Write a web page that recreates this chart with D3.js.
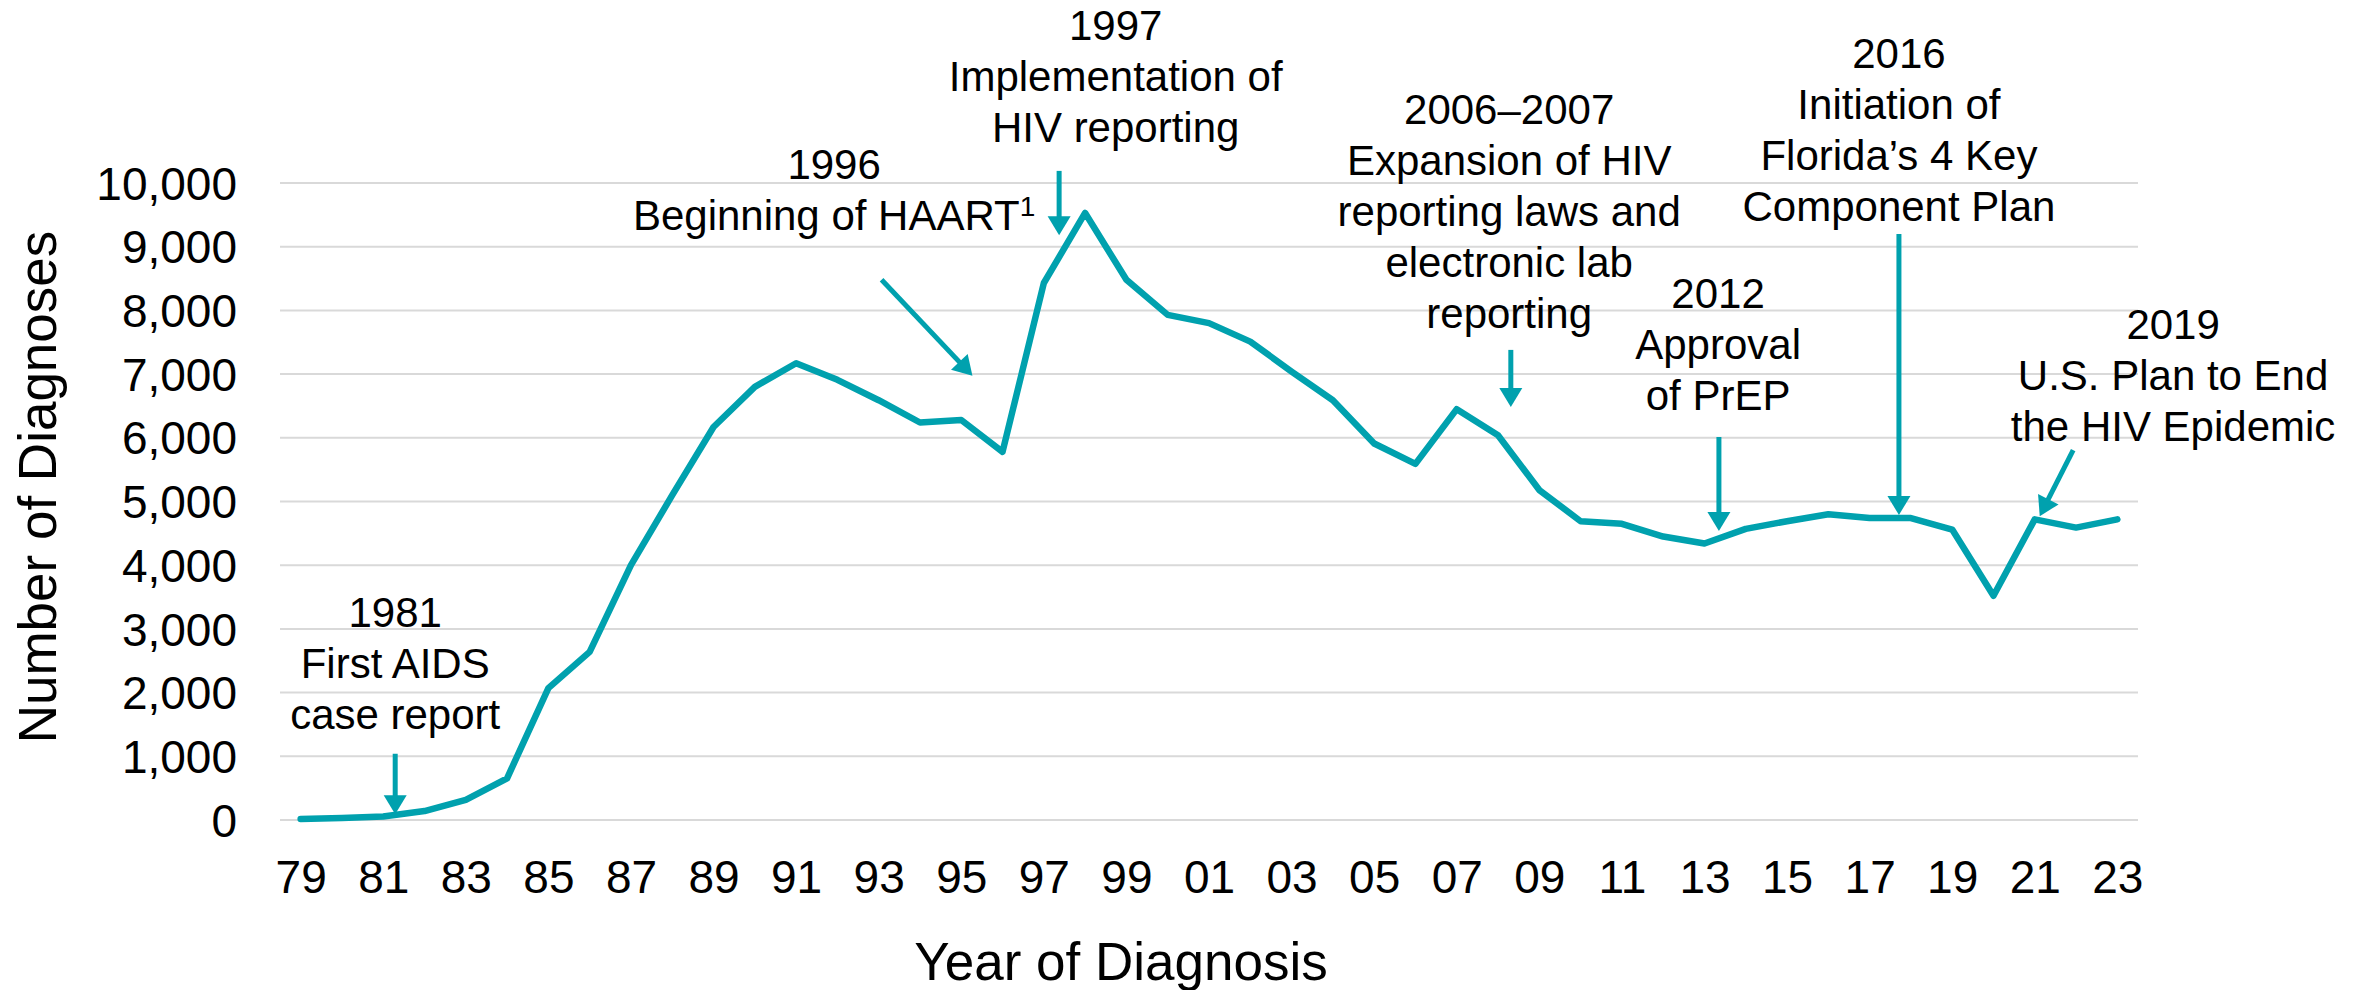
<!DOCTYPE html>
<html>
<head>
<meta charset="utf-8">
<script src="https://cdn.jsdelivr.net/npm/d3@7"></script>
<style>
  html, body { margin: 0; padding: 0; background: #fff; }
  svg { display: block; font-family: "Liberation Sans", Arial, sans-serif; }
</style>
</head>
<body>
<svg id="chart" width="2366" height="990"></svg>
<script>
// ---------------- DATA ----------------
const years = [1979,1980,1981,1982,1983,1984,1985,1986,1987,1988,1989,1990,1991,1992,1993,1994,1995,1996,1997,1998,1999,2000,2001,2002,2003,2004,2005,2006,2007,2008,2009,2010,2011,2012,2013,2014,2015,2016,2017,2018,2019,2020,2021,2022,2023];
const diagnoses = [15,30,55,140,315,655,2070,2640,4000,5100,6170,6800,7170,6910,6590,6240,6280,5780,8430,9530,8480,7930,7800,7510,7040,6590,5910,5590,6450,6040,5180,4690,4650,4450,4340,4570,4690,4800,4740,4740,4560,3520,4720,4590,4720];
const tickYears = [1979,1981,1983,1985,1987,1989,1991,1993,1995,1997,1999,2001,2003,2005,2007,2009,2011,2013,2015,2017,2019,2021,2023];
const tickLabels = ["79","81","83","85","87","89","91","93","95","97","99","01","03","05","07","09","11","13","15","17","19","21","23"];
const yTicks = [0,1000,2000,3000,4000,5000,6000,7000,8000,9000,10000];
const xTitle = "Year of Diagnosis";
const yTitle = "Number of Diagnoses";

// annotation text blocks and arrows, located in data space (year, value)
const annotations = [
  { lines: ["1981","First AIDS","case report"], at: [1981.29, 3030],
    arrow: [[1981.29, 1040], [1981.29, 90]] },
  { lines: ["1996","Beginning of HAART|1"], at: [1991.92, 10063],
    arrow: [[1993.07, 8480], [1995.27, 6975]] },
  { lines: ["1997","Implementation of","HIV reporting"], at: [1998.74, 12240],
    arrow: [[1997.37, 10190], [1997.37, 9180]] },
  { lines: ["2006\u20132007","Expansion of HIV","reporting laws and","electronic lab","reporting"], at: [2008.27, 10925],
    arrow: [[2008.31, 7380], [2008.31, 6484]] },
  { lines: ["2012","Approval","of PrEP"], at: [2013.33, 8038],
    arrow: [[2013.35, 6013], [2013.35, 4537]] },
  { lines: ["2016","Initiation of","Florida\u2019s 4 Key","Component Plan"], at: [2017.71, 11805],
    arrow: [[2017.71, 9200], [2017.71, 4788]] },
  { lines: ["2019","U.S. Plan to End","the HIV Epidemic"], at: [2024.35, 7551],
    arrow: [[2021.93, 5808], [2021.12, 4770]] }
];

// ---------------- LAYOUT ----------------
const W = 2366, H = 990;
const plot = { left: 280, right: 2138, top: 183, bottom: 820 };
const teal = "#00A1AE";
const gridColor = "#D9D9D9";
const lineHeight = 51;

const svg = d3.select("#chart");

const x = d3.scalePoint().domain(years).range([plot.left, plot.right]).padding(0.5);
const xYear = d3.scaleLinear().domain([years[0], years[years.length-1]])
  .range([x(years[0]), x(years[years.length-1])]);
const y = d3.scaleLinear().domain([0, 10000]).range([plot.bottom, plot.top]);

// gridlines
svg.append("g").selectAll("line").data(yTicks).join("line")
  .attr("x1", plot.left).attr("x2", plot.right)
  .attr("y1", d => y(d)).attr("y2", d => y(d))
  .attr("stroke", gridColor).attr("stroke-width", 2);

// y axis
const yAxis = svg.append("g").attr("transform", `translate(${plot.left},0)`)
  .call(d3.axisLeft(y).tickValues(yTicks).tickFormat(d3.format(",")).tickSize(0).tickPadding(43));
yAxis.select(".domain").remove();
yAxis.selectAll("text").attr("font-size", 46).attr("fill", "#000")
  .attr("font-family", "Liberation Sans, Arial, sans-serif").attr("dy", "0.35em");

// x axis
const xAxis = svg.append("g").attr("transform", `translate(0,${plot.bottom})`)
  .call(d3.axisBottom(x).tickValues(tickYears)
    .tickFormat(d => tickLabels[tickYears.indexOf(d)]).tickSize(0).tickPadding(40));
xAxis.select(".domain").remove();
xAxis.selectAll("text").attr("font-size", 46).attr("fill", "#000")
  .attr("font-family", "Liberation Sans, Arial, sans-serif");

// axis titles
svg.append("text").attr("x", xYear(1998.87)).attr("y", 980)
  .attr("text-anchor", "middle").attr("font-size", 53).attr("fill", "#000").text(xTitle);
svg.append("text").attr("transform", `translate(56,487) rotate(-90)`)
  .attr("text-anchor", "middle").attr("font-size", 53).attr("fill", "#000").text(yTitle);

// data line
const line = d3.line().x((d, i) => x(years[i])).y(d => y(d));
svg.append("path").datum(diagnoses)
  .attr("d", line).attr("fill", "none").attr("stroke", teal)
  .attr("stroke-width", 6.5).attr("stroke-linejoin", "round").attr("stroke-linecap", "round");

// annotations
const annG = svg.append("g");
annotations.forEach(a => {
  const tx = xYear(a.at[0]), ty = y(a.at[1]);
  const t = annG.append("text").attr("text-anchor", "middle").attr("font-size", 42).attr("fill", "#000");
  a.lines.forEach((ln, i) => {
    const parts = ln.split("|");
    t.append("tspan").attr("x", tx).attr("y", ty + i * lineHeight).text(parts[0]);
    if (parts[1]) {
      t.append("tspan").attr("dy", -14).attr("font-size", 28).text(parts[1]);
    }
  });
  // arrow
  const x1 = xYear(a.arrow[0][0]), y1 = y(a.arrow[0][1]);
  const x2 = xYear(a.arrow[1][0]), y2 = y(a.arrow[1][1]);
  const dx = x2 - x1, dy = y2 - y1, len = Math.hypot(dx, dy);
  const ux = dx / len, uy = dy / len;
  const headLen = 19, headHalf = 11.5;
  const bx = x2 - ux * headLen, by = y2 - uy * headLen;
  annG.append("line").attr("x1", x1).attr("y1", y1).attr("x2", bx + ux * 2).attr("y2", by + uy * 2)
    .attr("stroke", teal).attr("stroke-width", 5);
  annG.append("path")
    .attr("d", `M${x2},${y2}L${bx - uy * headHalf},${by + ux * headHalf}L${bx + uy * headHalf},${by - ux * headHalf}Z`)
    .attr("fill", teal);
});
</script>
</body>
</html>
